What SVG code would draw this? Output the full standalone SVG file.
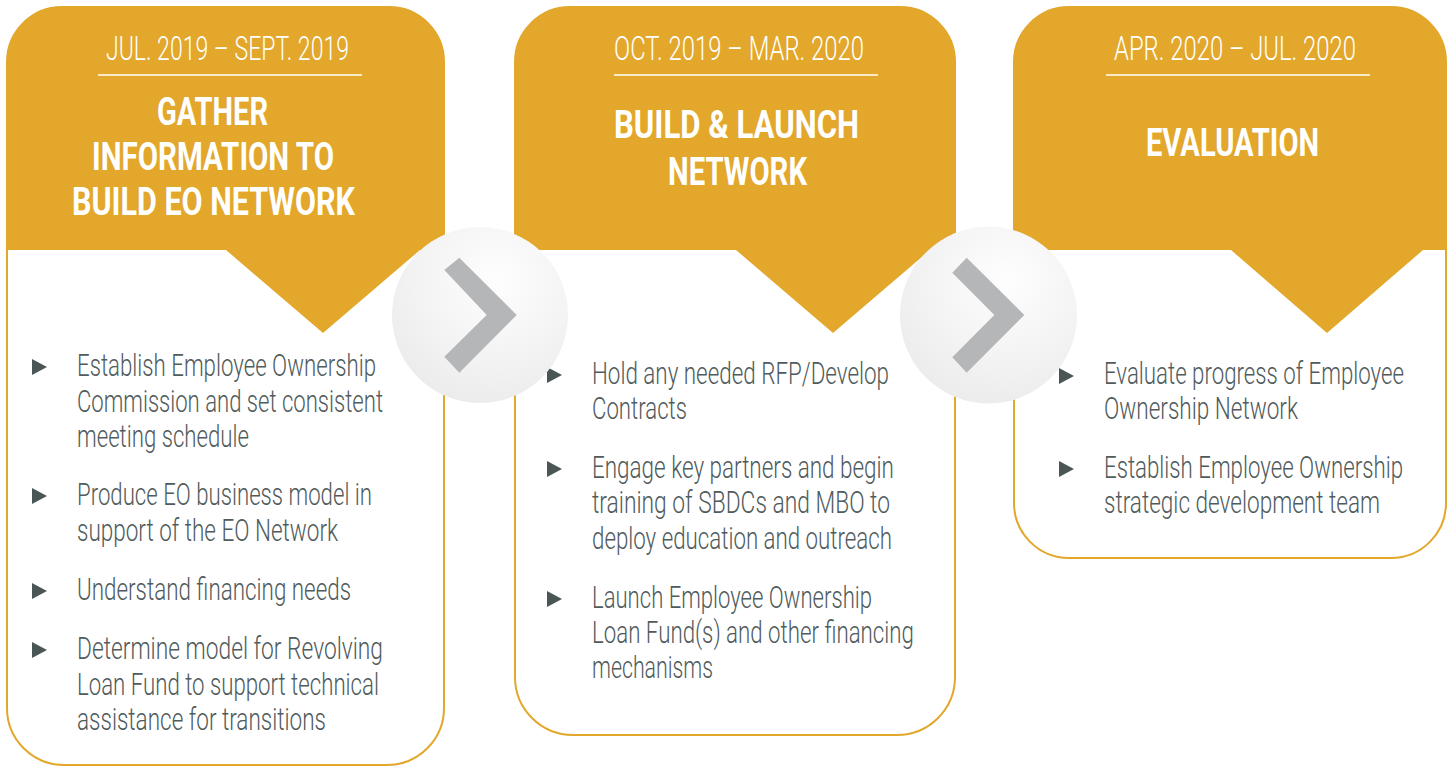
<svg xmlns="http://www.w3.org/2000/svg" width="1452" height="766" viewBox="0 0 1452 766">
<style>
.frame{fill:#ffffff;stroke:#E2A72B;stroke-width:2}
.head{fill:#E2A72B}
.rule{stroke:#ffffff;stroke-width:1.5}
.date{font-family:Roboto,"Liberation Sans",sans-serif;font-weight:300;font-size:33px;fill:#ffffff}
.title{font-family:Roboto,"Liberation Sans",sans-serif;font-weight:700;font-size:39.5px;fill:#ffffff}
.body{font-family:Roboto,"Liberation Sans",sans-serif;font-weight:300;font-size:32px;fill:#505b5c}
.bul{fill:#4a5556}
.chev{fill:#b5b6b8}
</style>
<defs>
<radialGradient id="ball" cx="0.6" cy="0.3" r="0.75">
<stop offset="0" stop-color="#fefefe"/>
<stop offset="0.6" stop-color="#f3f3f3"/>
<stop offset="1" stop-color="#ebebeb"/>
</radialGradient>
<path id="tri" d="M0,-8 L15,0 L0,8 Z"/>
</defs>

<g id="panel1">
<path class="frame" d="M62,7 H389 A55,55 0 0 1 444,62 V708 A57,57 0 0 1 387,765 H64 A57,57 0 0 1 7,708 V62 A55,55 0 0 1 62,7 Z"/>
<path class="head" d="M7,250 V62 A55,55 0 0 1 62,7 H389 A55,55 0 0 1 444,62 V250 H420 L323,333 L226,250 Z"/>
<text class="date" x="106" y="60" textLength="243" lengthAdjust="spacingAndGlyphs">JUL. 2019 – SEPT. 2019</text>
<line class="rule" x1="98" y1="75" x2="362" y2="75"/>
<text class="title" x="157" y="125" textLength="111" lengthAdjust="spacingAndGlyphs">GATHER</text>
<text class="title" x="92" y="170" textLength="242" lengthAdjust="spacingAndGlyphs">INFORMATION TO</text>
<text class="title" x="72" y="215" textLength="283" lengthAdjust="spacingAndGlyphs">BUILD EO NETWORK</text>
<use href="#tri" class="bul" x="32" y="367"/>
<use href="#tri" class="bul" x="32" y="496"/>
<use href="#tri" class="bul" x="32" y="591"/>
<use href="#tri" class="bul" x="32" y="650"/>
<g transform="translate(77,0) scale(0.72,1)">
<text class="body" x="0" y="376" textLength="415.3" lengthAdjust="spacingAndGlyphs">Establish Employee Ownership</text>
<text class="body" x="0" y="412" textLength="425" lengthAdjust="spacingAndGlyphs">Commission and set consistent</text>
<text class="body" x="0" y="447" textLength="238.9" lengthAdjust="spacingAndGlyphs">meeting schedule</text>
<text class="body" x="0" y="505" textLength="409.7" lengthAdjust="spacingAndGlyphs">Produce EO business model in</text>
<text class="body" x="0" y="541" textLength="362.5" lengthAdjust="spacingAndGlyphs">support of the EO Network</text>
<text class="body" x="0" y="600" textLength="380.6" lengthAdjust="spacingAndGlyphs">Understand financing needs</text>
<text class="body" x="0" y="659" textLength="425" lengthAdjust="spacingAndGlyphs">Determine model for Revolving</text>
<text class="body" x="0" y="695" textLength="419.4" lengthAdjust="spacingAndGlyphs">Loan Fund to support technical</text>
<text class="body" x="0" y="730" textLength="345.8" lengthAdjust="spacingAndGlyphs">assistance for transitions</text>
</g>
</g>

<g id="panel2">
<path class="frame" d="M570,7 H900 A55,55 0 0 1 955,62 V677 A58,58 0 0 1 897,735 H573 A58,58 0 0 1 515,677 V62 A55,55 0 0 1 570,7 Z"/>
<path class="head" d="M515,250 V62 A55,55 0 0 1 570,7 H900 A55,55 0 0 1 955,62 V250 H930 L833,333 L736,250 Z"/>
<text class="date" x="614" y="60" textLength="250" lengthAdjust="spacingAndGlyphs">OCT. 2019 – MAR. 2020</text>
<line class="rule" x1="614" y1="75" x2="878" y2="75"/>
<text class="title" x="614" y="138" textLength="245" lengthAdjust="spacingAndGlyphs">BUILD &amp; LAUNCH</text>
<text class="title" x="668" y="185" textLength="139" lengthAdjust="spacingAndGlyphs">NETWORK</text>
<use href="#tri" class="bul" x="547" y="375"/>
<use href="#tri" class="bul" x="547" y="469"/>
<use href="#tri" class="bul" x="547" y="599"/>
<g transform="translate(592,0) scale(0.72,1)">
<text class="body" x="0" y="384" textLength="412.5" lengthAdjust="spacingAndGlyphs">Hold any needed RFP/Develop</text>
<text class="body" x="0" y="419" textLength="131.9" lengthAdjust="spacingAndGlyphs">Contracts</text>
<text class="body" x="0" y="478" textLength="419.4" lengthAdjust="spacingAndGlyphs">Engage key partners and begin</text>
<text class="body" x="0" y="513" textLength="413.9" lengthAdjust="spacingAndGlyphs">training of SBDCs and MBO to</text>
<text class="body" x="0" y="549" textLength="416.7" lengthAdjust="spacingAndGlyphs">deploy education and outreach</text>
<text class="body" x="0" y="608" textLength="388.9" lengthAdjust="spacingAndGlyphs">Launch Employee Ownership</text>
<text class="body" x="0" y="643" textLength="447.2" lengthAdjust="spacingAndGlyphs">Loan Fund(s) and other financing</text>
<text class="body" x="0" y="678" textLength="168.1" lengthAdjust="spacingAndGlyphs">mechanisms</text>
</g>
</g>

<g id="panel3">
<path class="frame" d="M1069,7 H1391 A55,55 0 0 1 1446,62 V503 A55,55 0 0 1 1391,558 H1069 A55,55 0 0 1 1014,503 V62 A55,55 0 0 1 1069,7 Z"/>
<path class="head" d="M1014,250 V62 A55,55 0 0 1 1069,7 H1391 A55,55 0 0 1 1446,62 V250 H1423 L1327,333 L1231,250 Z"/>
<text class="date" x="1114" y="60" textLength="242" lengthAdjust="spacingAndGlyphs">APR. 2020 – JUL. 2020</text>
<line class="rule" x1="1106" y1="75" x2="1370" y2="75"/>
<text class="title" x="1146" y="156" textLength="173" lengthAdjust="spacingAndGlyphs">EVALUATION</text>
<use href="#tri" class="bul" x="1059" y="376"/>
<use href="#tri" class="bul" x="1059" y="469"/>
<g transform="translate(1104,0) scale(0.72,1)">
<text class="body" x="0" y="384" textLength="416.7" lengthAdjust="spacingAndGlyphs">Evaluate progress of Employee</text>
<text class="body" x="0" y="419" textLength="269.4" lengthAdjust="spacingAndGlyphs">Ownership Network</text>
<text class="body" x="0" y="478" textLength="415.3" lengthAdjust="spacingAndGlyphs">Establish Employee Ownership</text>
<text class="body" x="0" y="513" textLength="383.3" lengthAdjust="spacingAndGlyphs">strategic development team</text>
</g>
</g>

<g id="connectors">
<g id="arrow1">
<circle cx="480" cy="315" r="88" fill="url(#ball)"/>
<path class="chev" d="M444.3,270 L459.3,257.7 L516.7,315 L459.3,372.7 L444.3,356.7 L486.7,315 Z"/>
</g>
<g id="arrow2">
<circle cx="988.5" cy="315" r="88.5" fill="url(#ball)"/>
<path class="chev" d="M952.3,272.7 L966.7,257.7 L1024.3,315 L966.7,372.7 L952.3,357.3 L994.3,315 Z"/>
</g>
</g>
</svg>
